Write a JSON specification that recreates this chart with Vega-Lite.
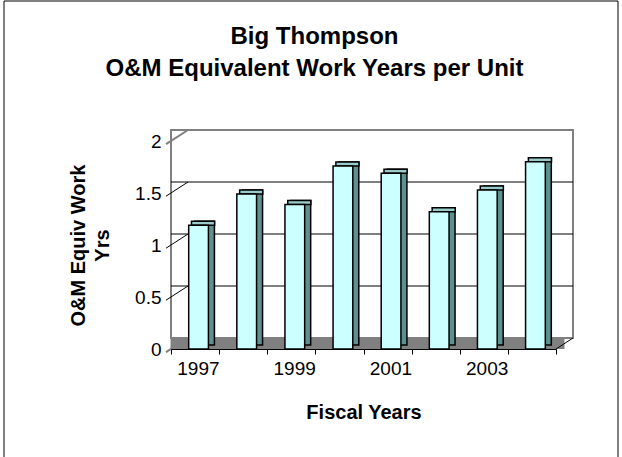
{
  "$schema": "https://vega.github.io/schema/vega-lite/v6.json",
  "width": 385,
  "height": 208,
  "autosize": "none",
  "padding": {"left": 171, "top": 141, "right": 66, "bottom": 108},
  "background": "white",
  "config": {"view": {"stroke": null}, "font": "Liberation Sans"},
  "title": {
    "text": ["Big Thompson", "O&M Equivalent Work Years per Unit"],
    "fontSize": 24,
    "fontWeight": "bold",
    "color": "black",
    "frame": "group",
    "anchor": "middle",
    "dx": -49,
    "offset": -80,
    "lineHeight": 32
  },
  "datasets": {
    "bars": [
      {"year": 1997, "value": 1.19},
      {"year": 1998, "value": 1.49},
      {"year": 1999, "value": 1.39},
      {"year": 2000, "value": 1.76},
      {"year": 2001, "value": 1.69},
      {"year": 2002, "value": 1.32},
      {"year": 2003, "value": 1.53},
      {"year": 2004, "value": 1.8}
    ],
    "levels": [{"level": 0}, {"level": 0.5}, {"level": 1}, {"level": 1.5}, {"level": 2}],
    "frame": [{"k": 1}]
  },
  "layer": [
    {
      "data": {"name": "frame"},
      "mark": {"type": "rect", "fill": "white", "fillOpacity": 0, "stroke": "black", "strokeWidth": 1, "xOffset": -167, "x2Offset": 62, "yOffset": -140, "y2Offset": 115},
      "encoding": {
        "x": {"datum": 1997, "type": "ordinal", "bandPosition": 0},
        "x2": {"datum": 2004, "bandPosition": 1},
        "y": {"datum": 2, "type": "quantitative"},
        "y2": {"datum": 0}
      }
    },
    {
      "data": {"name": "frame"},
      "mark": {"type": "rect", "fill": "white", "stroke": "#808080", "strokeWidth": 2, "xOffset": 17, "x2Offset": 17, "yOffset": -11, "y2Offset": -11},
      "encoding": {
        "y": {"datum": 0, "type": "quantitative"},
        "y2": {"datum": 2}
      }
    },
    {
      "data": {"name": "frame"},
      "mark": {"type": "rect", "fill": "#808080", "xOffset": 8.5, "x2Offset": 8.5, "y2Offset": -11},
      "encoding": {
        "y": {"datum": 0, "type": "quantitative"},
        "y2": {"datum": 0}
      }
    },
    {
      "data": {"name": "levels"},
      "transform": [{"filter": "datum.level > 0 && datum.level < 2"}],
      "mark": {"type": "rule", "color": "black", "strokeWidth": 1, "xOffset": 17, "x2Offset": 17, "yOffset": -11},
      "encoding": {
        "y": {"field": "level", "type": "quantitative"}
      }
    },
    {
      "data": {"name": "levels"},
      "transform": [{"filter": "datum.level > 0 && datum.level < 2"}],
      "mark": {"type": "rule", "color": "black", "strokeWidth": 1, "xOffset": -5, "yOffset": 3.2, "x2Offset": 17, "y2Offset": -11},
      "encoding": {
        "x": {"datum": 1997, "type": "ordinal", "bandPosition": 0},
        "x2": {"datum": 1997, "bandPosition": 0},
        "y": {"field": "level", "type": "quantitative"},
        "y2": {"field": "level"}
      }
    },
    {
      "data": {"name": "levels"},
      "transform": [{"filter": "datum.level == 2 || datum.level == 0"}],
      "mark": {"type": "rule", "color": "#808080", "strokeWidth": 2, "xOffset": -5, "yOffset": 3.2, "x2Offset": 17, "y2Offset": -11},
      "encoding": {
        "x": {"datum": 1997, "type": "ordinal", "bandPosition": 0},
        "x2": {"datum": 1997, "bandPosition": 0},
        "y": {"field": "level", "type": "quantitative"},
        "y2": {"field": "level"}
      }
    },
    {
      "data": {"name": "levels"},
      "transform": [{"filter": "datum.level == 0"}],
      "mark": {"type": "rule", "color": "black", "strokeWidth": 1, "x2Offset": 17, "y2Offset": -11},
      "encoding": {
        "x": {"datum": 2004, "type": "ordinal", "bandPosition": 1},
        "x2": {"datum": 2004, "bandPosition": 1},
        "y": {"field": "level", "type": "quantitative"},
        "y2": {"field": "level"}
      }
    },
    {
      "data": {"name": "bars"},
      "mark": {"type": "bar", "width": {"band": 0.41}, "xOffset": 9.5, "yOffset": -4, "y2Offset": -4, "fill": "#5F9090", "stroke": "black", "strokeWidth": 1.5},
      "encoding": {
        "x": {"field": "year", "type": "ordinal", "scale": {"paddingInner": 0, "paddingOuter": 0},
          "axis": {"title": "Fiscal Years", "titleFontSize": 20, "titleFontWeight": "bold", "titleColor": "black", "titlePadding": 24,
            "labelFontSize": 19, "labelColor": "black", "labelAngle": 0, "labelPadding": 14, "labelOffset": 24, "tickBand": "extent", "tickSize": 5,
            "tickColor": "black", "domainColor": "black", "labelOverlap": false, "grid": false,
            "labelExpr": "datum.value % 2 == 1 ? datum.label : ''"}},
        "y": {"field": "value", "type": "quantitative", "scale": {"domain": [0, 2], "nice": false},
          "axis": {"title": ["O&M Equiv Work", "Yrs"], "titleFontSize": 20, "titleFontWeight": "bold", "titleColor": "black",
            "titleLineHeight": 24, "titlePadding": 22, "labelFontSize": 19, "labelColor": "black", "labelPadding": 10,
            "ticks": false, "tickSize": 0, "domainColor": "#808080", "domainWidth": 2, "grid": false,
            "values": [0, 0.5, 1, 1.5, 2], "format": "~g"}}
      }
    },
    {
      "data": {"name": "bars"},
      "mark": {"type": "bar", "width": {"band": 0.48}, "xOffset": 8, "yOffset": -4, "fill": "#99CCCC", "stroke": "black", "strokeWidth": 1.5},
      "encoding": {
        "x": {"field": "year", "type": "ordinal"},
        "y": {"field": "value", "type": "quantitative"},
        "y2": {"field": "value"}
      }
    },
    {
      "data": {"name": "bars"},
      "mark": {"type": "bar", "width": {"band": 0.41}, "xOffset": 3.5, "fill": "#CCFFFF", "stroke": "black", "strokeWidth": 1.5},
      "encoding": {
        "x": {"field": "year", "type": "ordinal"},
        "y": {"field": "value", "type": "quantitative"}
      }
    }
  ]
}
